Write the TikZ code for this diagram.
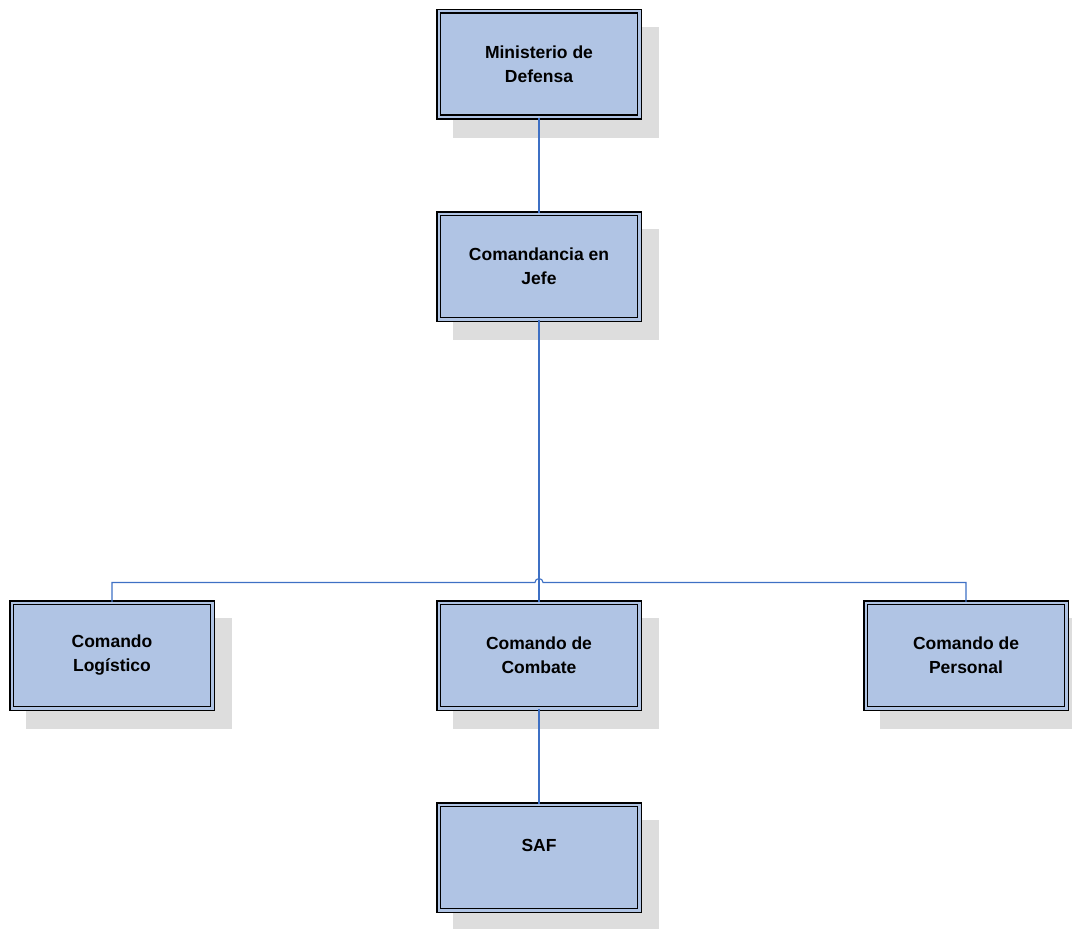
\documentclass[tikz,border=0pt]{standalone}
\usepackage{fontspec}
\setmainfont{Liberation Sans}
\usepackage{tikz}
\usetikzlibrary{shadows}
\definecolor{boxfill}{RGB}{176,196,228}
\definecolor{linkblue}{RGB}{62,112,196}
\definecolor{shadowgray}{RGB}{221,221,221}

\begin{document}
\begin{tikzpicture}[x=1pt, y=1pt,
        edge from parent/.style={draw=linkblue, line width=1.1pt},
        level 1/.style={level distance=202.5pt},
        level 2/.style={level distance=389pt, sibling distance=427pt},
        level 3/.style={level distance=202pt}]
      \tikzstyle{unit} = [rectangle, draw=black, line width=1.5pt, double=boxfill, double distance=2.2pt,
        fill=boxfill, minimum width=200.8pt, minimum height=105.8pt, align=center,
        font=\fontsize{17.5}{24}\selectfont\bfseries,
        drop shadow={shadow xshift=17pt, shadow yshift=-18pt, opacity=1, fill=shadowgray, draw=shadowgray, line width=5.2pt}]
      \useasboundingbox (0,0) rectangle (1072,-929);
      \node (MinDef) [unit] at (539,-64) {Ministerio de\\Defensa}
        child {node (ComJefe) [unit] {Comandancia en\\Jefe}
        {
          child {node (ComLog) [unit] {Comando\\Log\'{\i}stico} edge from parent [draw=none]}
          child {node (ComComb) [unit] {Comando de\\Combate}
          {
            child {node (SAF) [unit] {SAF\\\mbox{}}}
          }}
          child {node (ComPers) [unit] {Comando de\\Personal} edge from parent [draw=none]}
        }};
      % horizontal bar hops over the line to Combate
      \draw[linkblue, line width=1.1pt] (ComLog.north) |- (535,-582.5) arc (180:0:4) -| (ComPers.north);
\end{tikzpicture}
\end{document}
